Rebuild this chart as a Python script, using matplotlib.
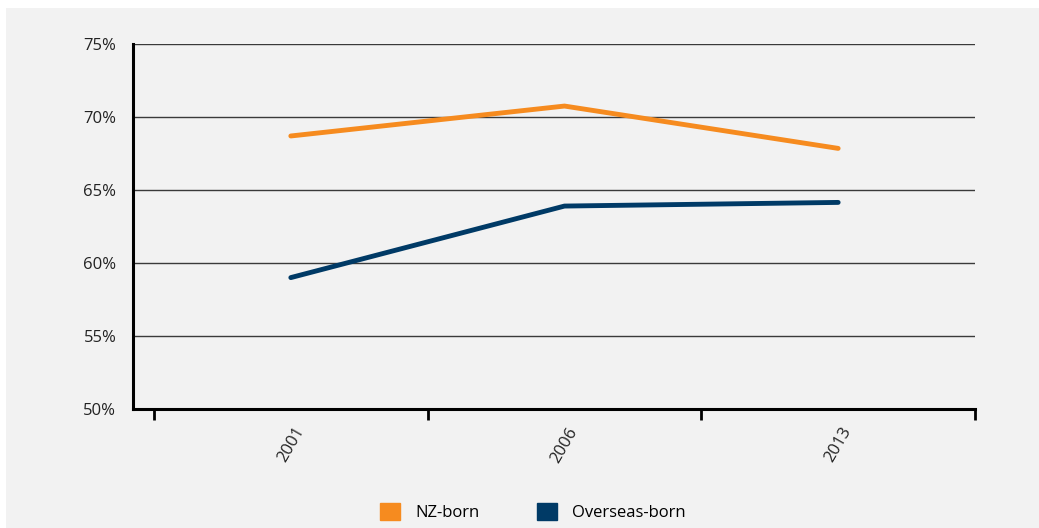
import matplotlib.pyplot as plt
import matplotlib.patches as mpatches
from matplotlib.ticker import FixedLocator, PercentFormatter

plt.rcParams['font.family'] = ['Open Sans', 'DejaVu Sans']

years = ['2001', '2006', '2013']
nz_born = [68.7, 70.75, 67.85]
overseas_born = [59.0, 63.9, 64.15]

orange = '#f68b1f'
navy = '#003a66'
bg = '#f2f2f2'

fig = plt.figure(figsize=(10.39, 5.28), dpi=100)
fig.patch.set_facecolor('white')
fig.patches.append(mpatches.Rectangle((6 / 1039, 0), 1 - 6 / 1039, 1 - 8 / 528,
                                      transform=fig.transFigure, facecolor=bg,
                                      edgecolor='none', zorder=-10))

ax = fig.add_axes([133 / 1039, 1 - 409 / 528, (975 - 133) / 1039, (409 - 44) / 528])
ax.set_facecolor(bg)

x = range(len(years))
ax.plot(x, nz_born, color=orange, linewidth=3.5, solid_capstyle='round', label='NZ-born')
ax.plot(x, overseas_born, color=navy, linewidth=3.5, solid_capstyle='round', label='Overseas-born')

ax.set_ylim(50, 75)
ax.set_yticks([50, 55, 60, 65, 70, 75])
ax.yaxis.set_major_formatter(PercentFormatter(decimals=0))
ax.grid(axis='y', color='#3a3a3a', linewidth=1)
ax.set_axisbelow(True)

ax.set_xlim(-0.5 - 21 / 274, 2.5)
ax.set_xticks(list(x))
ax.set_xticklabels(years, rotation=60, ha='center', va='top', fontsize=12, color='#222222')
ax.xaxis.set_minor_locator(FixedLocator([-0.5, 0.5, 1.5, 2.5]))
ax.tick_params(axis='x', which='major', length=0, pad=11)
ax.tick_params(axis='x', which='minor', length=8, width=2, color='black', direction='out')
ax.tick_params(axis='y', length=0, pad=12, labelsize=12, labelcolor='#222222')

for side in ['top', 'right']:
    ax.spines[side].set_visible(False)
ax.spines['left'].set_linewidth(2.2)
ax.spines['bottom'].set_linewidth(2.2)

handles = [mpatches.Patch(color=orange, label='NZ-born'),
           mpatches.Patch(color=navy, label='Overseas-born')]
fig.legend(handles=handles, loc='center', bbox_to_anchor=(533 / 1039, 1 - 512 / 528),
           ncol=2, frameon=False, fontsize=12, handlelength=1.2, handleheight=1.2,
           columnspacing=3.5, handletextpad=0.9)

fig.savefig('out.png', dpi=100, facecolor=fig.get_facecolor())
